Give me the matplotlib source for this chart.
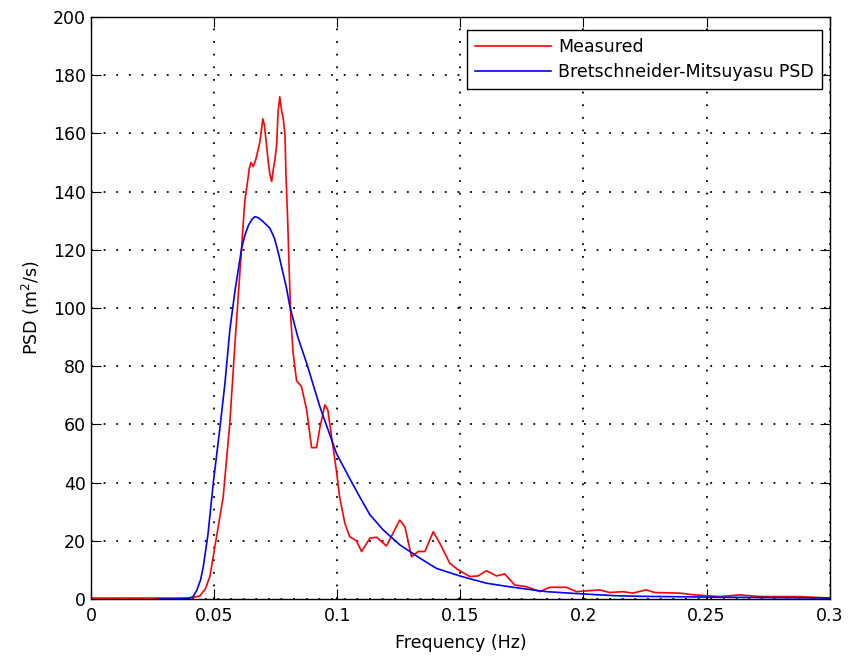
# espectro medido x Bretschneider-Mitsuyasu

import matplotlib
matplotlib.use("Agg")
import matplotlib.pyplot as plt

freq_medido = [0.0, 0.02, 0.04, 0.0442, 0.0465, 0.0483, 0.051, 0.0537, 0.0564, 0.0585,
               0.0598, 0.0608, 0.0618, 0.0625, 0.0636, 0.0643, 0.065, 0.0659, 0.0669, 0.0677,
               0.0686, 0.0693, 0.0698, 0.0704, 0.0713, 0.072, 0.0727, 0.0734, 0.074, 0.0747,
               0.0754, 0.076, 0.0767, 0.0774, 0.0781, 0.0788, 0.0792, 0.0799, 0.0805, 0.0812,
               0.0821, 0.0835, 0.0855, 0.0876, 0.0896, 0.0916, 0.093, 0.095, 0.0962, 0.0977,
               0.0997, 0.101, 0.1031, 0.1051, 0.1078, 0.1099, 0.1133, 0.116, 0.12, 0.1254,
               0.1275, 0.1302, 0.1329, 0.1356, 0.139, 0.1417, 0.1457, 0.1491, 0.1539, 0.1572,
               0.1606, 0.1647, 0.168, 0.1721, 0.1769, 0.1823, 0.1863, 0.193, 0.1972, 0.2066,
               0.2107, 0.216, 0.22, 0.2255, 0.229, 0.2391, 0.245, 0.2553, 0.2635, 0.2716,
               0.2878, 0.3]
psd_medido = [0.3, 0.3, 0.3, 1.0, 3.5, 7.7, 21.4, 35, 60.5, 88,
              104, 116, 128.5, 137, 143.4, 148, 150, 148.6, 150.9, 153.7,
              157, 161.7, 165, 163, 156, 150.3, 145.7, 143.5, 147.4, 150.9,
              156, 167.5, 172.6, 168, 165, 159.5, 145.7, 130, 113, 96,
              84.5, 75, 73, 65, 52, 52, 59, 66.7, 65, 55.8,
              44, 35, 26, 21.4, 20, 16.3, 20.9, 21.2, 18.2, 27.1,
              24.8, 14.5, 16.3, 16.3, 23.1, 19.1, 12.3, 10, 7.7, 7.9,
              9.7, 7.9, 8.6, 4.8, 4.2, 2.5, 4.0, 4.0, 2.5, 3.1,
              2.2, 2.5, 2.0, 3.1, 2.2, 2.0, 1.4, 0.8, 1.4, 0.8,
              0.8, 0.3]

# espectro teorico Bretschneider-Mitsuyasu
freq_bm = [0.027, 0.036, 0.04, 0.0415, 0.043, 0.0445, 0.0456, 0.0475, 0.0497, 0.0524,
           0.0544, 0.0564, 0.0585, 0.0612, 0.0625, 0.064, 0.0655, 0.0666, 0.068, 0.0695,
           0.071, 0.0727, 0.0745, 0.076, 0.078, 0.0794, 0.0808, 0.084, 0.0876, 0.093,
           0.0997, 0.105, 0.1092, 0.1133, 0.1187, 0.1254, 0.1336, 0.1403, 0.1498, 0.1606,
           0.1714, 0.185, 0.1999, 0.2134, 0.2229, 0.2553, 0.3]
psd_bm = [0.0, 0.0, 0.3, 0.8, 3.0, 6.5, 11, 22, 40, 59,
          74, 92.4, 106, 120.5, 125, 128.5, 130.6, 131.4, 131, 130,
          128.8, 127.4, 124, 119.3, 112, 106.9, 100.4, 90, 81, 66,
          50, 41.5, 35, 28.9, 23.7, 18.6, 14, 10.5, 7.9, 5.4,
          4.0, 2.5, 1.7, 1.1, 0.9, 0.6, 0.3]

xticks = [0, 0.05, 0.1, 0.15, 0.2, 0.25, 0.3]
xtick_labels = ["0", "0.05", "0.1", "0.15", "0.2", "0.25", "0.3"]
yticks = list(range(0, 201, 20))

plt.rcParams["font.family"] = ["DejaVu Sans"]
plt.rcParams["font.size"] = 12.5

fig = plt.figure(figsize=(8.58, 6.56), dpi=100)
ax = fig.add_axes([0.106, 0.087, 0.861, 0.887])

ax.plot(freq_medido, psd_medido, color="red", lw=1.2, label="Measured")
ax.plot(freq_bm, psd_bm, color="blue", lw=1.2, label="Bretschneider-Mitsuyasu PSD")

ax.set_xlim(0, 0.3)
ax.set_ylim(0, 200)
ax.set_xticks(xticks)
ax.set_xticklabels(xtick_labels)
ax.set_yticks(yticks)
ax.grid(True, color="black", linestyle=(0, (1, 6)), linewidth=1.3)
ax.tick_params(direction="in", top=True, right=True, length=7, colors="black",
               labelsize=12.5)
ax.tick_params(axis="x", pad=6)
for s in ax.spines.values():
    s.set_linewidth(1.0)

ax.set_xlabel("Frequency (Hz)", fontsize=12.5, labelpad=6)
ax.set_ylabel("PSD (m$^2$/s)", fontsize=12.5, labelpad=8)

leg = ax.legend(loc="upper right", bbox_to_anchor=(0.989, 0.978), borderaxespad=0,
                fancybox=False, edgecolor="black", framealpha=1,
                handlelength=4.4, handletextpad=0.4, labelspacing=0.45,
                borderpad=0.45, fontsize=12.5)
leg.get_frame().set_linewidth(1.0)

fig.savefig("out.png", dpi=100)
